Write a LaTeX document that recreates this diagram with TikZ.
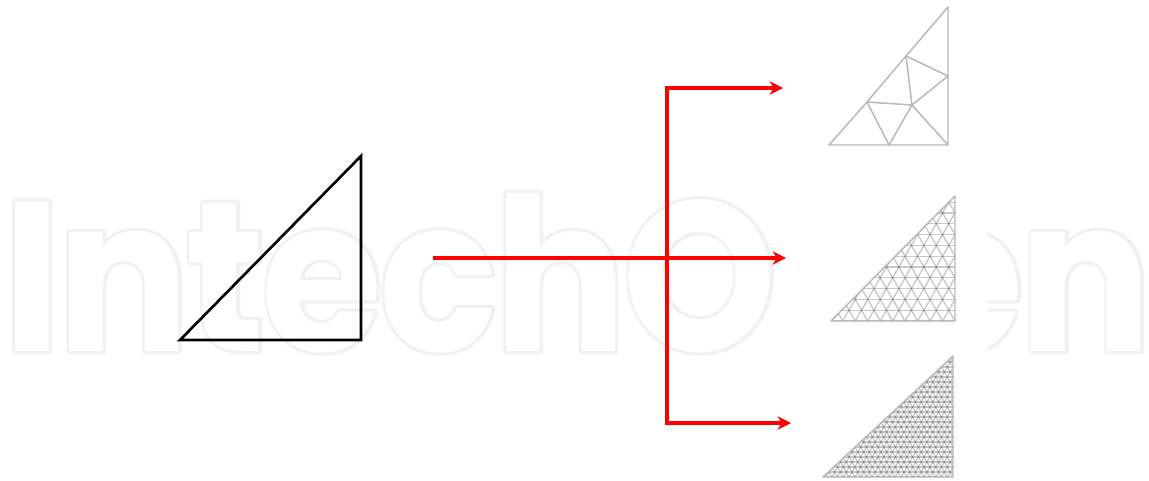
\documentclass[tikz,border=0pt]{standalone}
\usepackage{fontspec}
\usetikzlibrary{arrows.meta}
\newfontfamily\markfont[LetterSpace=-1.75,BoldFeatures={FakeStretch=0.92}]{Poppins}
\newfontfamily\markline[LetterSpace=-1.75,BoldFeatures={FakeStretch=0.92,FakeBold=3}]{Poppins}
\definecolor{markgray}{HTML}{F1F1F1}
\begin{document}
\begin{tikzpicture}[x=0.75pt,y=-0.75pt,
        markback/.style = {anchor=base west, inner sep=0, text=markgray, line join=round, font=\markline\bfseries\fontsize{160}{160}\selectfont},
        markfront/.style = {anchor=base west, inner sep=0, text=white, font=\markfont\bfseries\fontsize{160}{160}\selectfont},
        redline/.style = {draw=red, line width=2.4pt},
        redarrow/.style = {redline, -{Stealth[length=10pt, width=10pt, inset=3pt]}},
        meshline/.style = {draw=black!70, draw opacity=0.3, line width=0.9pt},
        hull/.style = {draw=black!28, line width=1.1pt, line join=round}]
        \useasboundingbox (0,0) rectangle (1149,480);
        \node[markback] (markb) at (3,351) {IntechOpen};
        \node[markfront] (markf) at (3,351) {IntechOpen};
        \fill[white] (780,0) rectangle (987,480);

        \draw[black, line width=2pt, line join=miter] (180,340) -- (361,340) -- (361,156) -- cycle;

        \coordinate (source) at (433,258);
        \coordinate (top) at (667,88);
        \coordinate (bottom) at (667,423);
        \coordinate (meshatarget) at (783,88);
        \coordinate (meshbtarget) at (786,258);
        \coordinate (meshctarget) at (791,423);
        \draw[redline, line cap=rect] (top) -- (bottom);
        \draw[redarrow] (source) -- (meshbtarget);
        \draw[redarrow] (top) -- (meshatarget);
        \draw[redarrow] (bottom) -- (meshctarget);

        \coordinate (a1) at (829,145);
        \coordinate (a2) at (889,145);
        \coordinate (a3) at (948,145);
        \coordinate (a4) at (948,76);
        \coordinate (a5) at (948,7);
        \coordinate (a6) at (906,56);
        \coordinate (a7) at (867,102);
        \coordinate (a8) at (912,105);
        \draw[hull] (a1) -- (a2) -- (a3) -- (a4) -- (a5) -- (a6) -- (a7) -- cycle;
        \draw[hull] (a6) -- (a4) -- (a8) -- (a6);
        \draw[hull] (a7) -- (a8) -- (a3);
        \draw[hull] (a7) -- (a2) -- (a8);

        \begin{scope}
        \clip (831,321) -- (955,321) -- (955,196) -- cycle;
        \foreach \row in {0,...,12} {
                \draw[meshline, line width=1pt] (825,321-\row*10.8) -- (960,321-\row*10.8);
        }
        \foreach \col in {-7,...,16} {
                \draw[meshline, line width=1pt] (955-\col*12.47,321) -- ++(-81,-140.4);
                \draw[meshline, line width=1pt] (955-\col*12.47,321) -- ++(81,-140.4);
        }
        \end{scope}
        \draw[hull] (831,321) -- (955,321) -- (955,196) -- cycle;

        \begin{scope}
        \clip (823,477) -- (953,477) -- (953,356) -- cycle;
        \foreach \row in {0,...,25} {
                \draw[meshline] (820,477-\row*5) -- (960,477-\row*5);
        }
        \foreach \col in {-15,...,30} {
                \draw[meshline] (953-\col*5.77,477) -- ++(-75,-130);
                \draw[meshline] (953-\col*5.77,477) -- ++(75,-130);
        }
        \end{scope}
        \draw[hull] (823,477) -- (953,477) -- (953,356) -- cycle;
\end{tikzpicture}
\end{document}
